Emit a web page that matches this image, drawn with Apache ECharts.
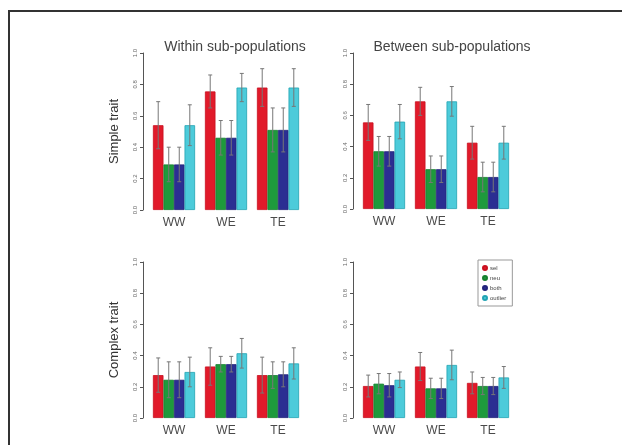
<!DOCTYPE html>
<html>
<head>
<meta charset="utf-8">
<script src="https://cdn.jsdelivr.net/npm/echarts@6/dist/echarts.min.js"></script>
<style>
html,body{margin:0;padding:0;background:#fff;overflow:hidden;}
#frame{position:absolute;left:8px;top:10px;width:700px;height:500px;border-left:2px solid #333;border-top:2px solid #333;}
#chart{position:absolute;left:0;top:0;width:622px;height:445px;}
</style>
</head>
<body>
<div id="frame"></div>
<div id="chart"></div>
<script>
// ---- data ----
var categories = ['WW', 'WE', 'TE'];
var seriesNames = ['sel', 'neu', 'both', 'outlier'];
var panelTitles = ['Within sub-populations', 'Between sub-populations'];
var rowNames = ['Simple trait', 'Complex trait'];
var yTickLabels = ['0.0', '0.2', '0.4', '0.6', '0.8', '1.0'];

// Within sub-populations, simple trait
var wsSel = [0.54, 0.755, 0.78];
var wsNeu = [0.29, 0.46, 0.51];
var wsBoth = [0.29, 0.46, 0.51];
var wsOut = [0.54, 0.78, 0.78];
var wsSelErr = [0.15, 0.105, 0.12];
var wsNeuErr = [0.11, 0.11, 0.14];
var wsBothErr = [0.11, 0.11, 0.14];
var wsOutErr = [0.13, 0.09, 0.12];

// Between sub-populations, simple trait
var bsSel = [0.555, 0.69, 0.425];
var bsNeu = [0.37, 0.255, 0.205];
var bsBoth = [0.37, 0.255, 0.205];
var bsOut = [0.56, 0.69, 0.425];
var bsSelErr = [0.115, 0.09, 0.105];
var bsNeuErr = [0.095, 0.085, 0.095];
var bsBothErr = [0.095, 0.085, 0.095];
var bsOutErr = [0.11, 0.095, 0.105];

// Within sub-populations, complex trait
var wcSel = [0.275, 0.33, 0.275];
var wcNeu = [0.245, 0.345, 0.275];
var wcBoth = [0.245, 0.345, 0.28];
var wcOut = [0.295, 0.415, 0.35];
var wcSelErr = [0.11, 0.12, 0.115];
var wcNeuErr = [0.115, 0.05, 0.085];
var wcBothErr = [0.115, 0.05, 0.08];
var wcOutErr = [0.095, 0.095, 0.10];

// Between sub-populations, complex trait
var bcSel = [0.205, 0.33, 0.225];
var bcNeu = [0.22, 0.19, 0.205];
var bcBoth = [0.21, 0.19, 0.205];
var bcOut = [0.245, 0.34, 0.26];
var bcSelErr = [0.07, 0.09, 0.07];
var bcNeuErr = [0.065, 0.065, 0.055];
var bcBothErr = [0.075, 0.065, 0.055];
var bcOutErr = [0.05, 0.095, 0.07];

// ---- styling ----
var colors = ['#e11a2a', '#1e9a3c', '#2b2e92', '#4ccbda'];
var borders = ['#c8101f', '#178030', '#22247a', '#22a3b3'];
var FONT = 'Liberation Sans';
var CAT_GAP = 0.19;

var panels = [
  {vals: [wsSel, wsNeu, wsBoth, wsOut], errs: [wsSelErr, wsNeuErr, wsBothErr, wsOutErr]},
  {vals: [bsSel, bsNeu, bsBoth, bsOut], errs: [bsSelErr, bsNeuErr, bsBothErr, bsOutErr]},
  {vals: [wcSel, wcNeu, wcBoth, wcOut], errs: [wcSelErr, wcNeuErr, wcBothErr, wcOutErr]},
  {vals: [bcSel, bcNeu, bcBoth, bcOut], errs: [bcSelErr, bcNeuErr, bcBothErr, bcOutErr]}
];
var gridPos = [
  {left: 148, top: 53, width: 156, height: 157},
  {left: 358, top: 53, width: 156, height: 156},
  {left: 148, top: 262, width: 156, height: 156},
  {left: 358, top: 262, width: 156, height: 156}
];

var grids = [], xAxes = [], yAxes = [], series = [];
panels.forEach(function (p, gi) {
  grids.push(gridPos[gi]);
  xAxes.push({
    type: 'category', gridIndex: gi, data: categories,
    axisLine: {show: false}, axisTick: {show: false},
    axisLabel: {fontFamily: FONT, fontSize: 12, color: '#4a4a4a', margin: 7}
  });
  yAxes.push({
    type: 'value', gridIndex: gi, min: 0, max: 1, interval: 0.2, offset: 5,
    splitLine: {show: false},
    axisLine: {show: true, lineStyle: {color: '#555', width: 1}},
    axisTick: {show: true, length: 3, lineStyle: {color: '#555'}},
    axisLabel: {
      fontFamily: FONT, fontSize: 6, color: '#666', rotate: 90, margin: 5,
      formatter: function (v) { return yTickLabels[Math.round(v / 0.2)]; }
    },
    name: gi % 2 === 0 ? rowNames[gi / 2] : '',
    nameLocation: 'middle', nameGap: 22,
    nameTextStyle: {fontFamily: FONT, fontSize: 13, color: '#333'}
  });
  p.vals.forEach(function (arr, si) {
    series.push({
      name: seriesNames[si], type: 'bar', xAxisIndex: gi, yAxisIndex: gi,
      data: arr, barGap: '0%', barCategoryGap: (CAT_GAP * 100) + '%',
      itemStyle: {color: colors[si], borderColor: borders[si], borderWidth: 0.8},
      silent: true, animation: false
    });
  });
  var errData = [];
  p.vals.forEach(function (arr, si) {
    arr.forEach(function (v, ci) { errData.push([ci, si, v, p.errs[si][ci]]); });
  });
  series.push({
    type: 'custom', xAxisIndex: gi, yAxisIndex: gi, data: errData, z: 10,
    animation: false, silent: true,
    encode: {x: 0, y: 2},
    renderItem: function (params, api) {
      var ci = api.value(0), si = api.value(1), v = api.value(2), e = api.value(3);
      var catW = api.size([1, 0])[0];
      var bw = catW * (1 - CAT_GAP) / 4;
      var off = (si - 1.5) * bw;
      var top = api.coord([ci, v + e]);
      var bot = api.coord([ci, v - e]);
      var x = top[0] + off;
      var cap = 2;
      var st = {stroke: '#777', lineWidth: 1};
      return {type: 'group', children: [
        {type: 'line', shape: {x1: x, y1: top[1], x2: x, y2: bot[1]}, style: st},
        {type: 'line', shape: {x1: x - cap, y1: top[1], x2: x + cap, y2: top[1]}, style: st},
        {type: 'line', shape: {x1: x - cap, y1: bot[1], x2: x + cap, y2: bot[1]}, style: st}
      ]};
    }
  });
});

var chart = echarts.init(document.getElementById('chart'), null, {renderer: 'canvas'});
chart.setOption({
  backgroundColor: 'transparent',
  animation: false,
  title: [
    {text: panelTitles[0], left: 230, top: 35, textAlign: 'center',
     textStyle: {fontFamily: FONT, fontSize: 14, fontWeight: 'normal', color: '#444'}},
    {text: panelTitles[1], left: 447, top: 35, textAlign: 'center',
     textStyle: {fontFamily: FONT, fontSize: 14, fontWeight: 'normal', color: '#444'}}
  ],
  legend: {
    data: seriesNames, orient: 'vertical', left: 478, top: 260,
    itemWidth: 4, itemHeight: 4, itemGap: 4, icon: 'circle',
    padding: [5, 6, 5, 4], borderColor: '#999', borderWidth: 1,
    textStyle: {fontFamily: FONT, fontSize: 6, color: '#444', padding: [0, 0, 0, -2]},
    selectedMode: false
  },
  grid: grids, xAxis: xAxes, yAxis: yAxes, series: series
});
</script>
</body>
</html>
